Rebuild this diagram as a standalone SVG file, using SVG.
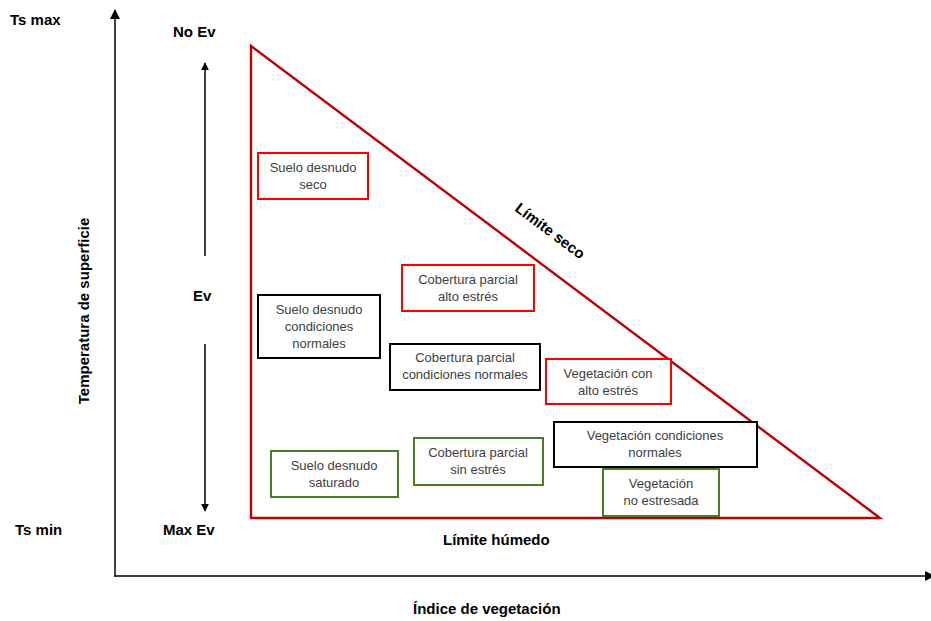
<svg xmlns="http://www.w3.org/2000/svg" width="931" height="621" viewBox="0 0 931 621">
<style>
.lbl{font-family:"Liberation Sans",Arial,sans-serif;font-weight:bold;font-size:15px;fill:#000}
.bt{font-family:"Liberation Sans",Arial,sans-serif;font-size:13px;fill:#404040;text-anchor:middle}
.red{fill:#fff;stroke:#ff0000;stroke-width:2}
.blk{fill:#fff;stroke:#000;stroke-width:2}
.grn{fill:#fff;stroke:#4e7a2a;stroke-width:2}
.ax{stroke:#000;stroke-width:1.5;fill:none}
</style>
<defs>
<marker id="ah" viewBox="0 0 10 10" refX="9" refY="5" markerWidth="8" markerHeight="8" orient="auto" markerUnits="userSpaceOnUse">
<path d="M0,0 L10,5 L0,10 z" fill="#000"/>
</marker>
<marker id="ah2" viewBox="0 0 10 10" refX="9" refY="5" markerWidth="10" markerHeight="10" orient="auto" markerUnits="userSpaceOnUse">
<path d="M0,0 L10,5 L0,10 z" fill="#000"/>
</marker>
</defs>
<rect width="931" height="621" fill="#fff"/>
<g id="connectors">
<line class="ax" x1="115" y1="577" x2="115" y2="10" marker-end="url(#ah2)"/>
<line class="ax" x1="115" y1="576" x2="934" y2="576" marker-end="url(#ah2)"/>
<line class="ax" x1="205" y1="256" x2="205" y2="63" marker-end="url(#ah)"/>
<line class="ax" x1="205" y1="344" x2="205" y2="511" marker-end="url(#ah)"/>
</g>
<g id="triangle">
<polygon points="251,46 251,518 880,518" fill="none" stroke="#c00000" stroke-width="2.4" stroke-linejoin="miter"/>
</g>
<g id="labels">
<text class="lbl" x="10" y="25">Ts max</text>
<text class="lbl" x="173" y="37">No Ev</text>
<text class="lbl" x="193" y="301">Ev</text>
<text class="lbl" x="163" y="535">Max Ev</text>
<text class="lbl" x="15" y="535">Ts min</text>
<text class="lbl" x="443" y="545">Límite húmedo</text>
<text class="lbl" x="413" y="614">Índice de vegetación</text>
<text class="lbl" transform="translate(89,311) rotate(-90)" text-anchor="middle">Temperatura de superficie</text>
<text class="lbl" transform="translate(547,235) rotate(36.9)" text-anchor="middle">Límite seco</text>
</g>
<g id="n1"><rect class="red" x="258" y="153" width="110" height="46"/><text class="bt" x="313" y="172">Suelo desnudo</text><text class="bt" x="313" y="189">seco</text></g>
<g id="n2"><rect class="red" x="402" y="265" width="132" height="46"/><text class="bt" x="468" y="284">Cobertura parcial</text><text class="bt" x="468" y="301">alto estrés</text></g>
<g id="n3"><rect class="blk" x="258" y="295" width="122" height="63"/><text class="bt" x="319" y="314">Suelo desnudo</text><text class="bt" x="319" y="331">condiciones</text><text class="bt" x="319" y="348">normales</text></g>
<g id="n4"><rect class="blk" x="390" y="344" width="150" height="46"/><text class="bt" x="465" y="362">Cobertura parcial</text><text class="bt" x="465" y="379">condiciones normales</text></g>
<g id="n5"><rect class="red" x="546" y="359" width="125" height="45"/><text class="bt" x="608" y="378">Vegetación con</text><text class="bt" x="608" y="395">alto estrés</text></g>
<g id="n6"><rect class="blk" x="554" y="422" width="203" height="45"/><text class="bt" x="655" y="440">Vegetación condiciones</text><text class="bt" x="655" y="457">normales</text></g>
<g id="n7"><rect class="grn" x="271" y="451" width="127" height="46"/><text class="bt" x="334" y="470">Suelo desnudo</text><text class="bt" x="334" y="487">saturado</text></g>
<g id="n8"><rect class="grn" x="414" y="438" width="129" height="47"/><text class="bt" x="478" y="457">Cobertura parcial</text><text class="bt" x="478" y="474">sin estrés</text></g>
<g id="n9"><rect class="grn" x="603" y="469" width="116" height="47"/><text class="bt" x="661" y="488">Vegetación</text><text class="bt" x="661" y="505">no estresada</text></g>
</svg>
